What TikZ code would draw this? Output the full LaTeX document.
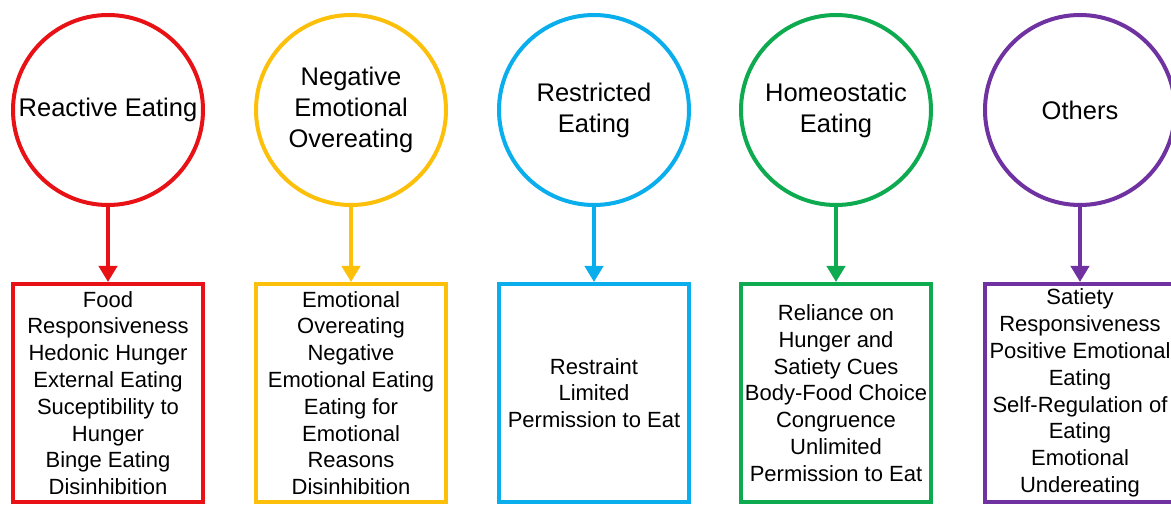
\documentclass[tikz,border=0pt]{standalone}
\usepackage{fontspec}
\setmainfont{Liberation Sans}
\usetikzlibrary{arrows.meta}
\definecolor{cred}{RGB}{232,18,22}
\definecolor{cyellow}{RGB}{252,192,10}
\definecolor{cblue}{RGB}{10,174,236}
\definecolor{cgreen}{RGB}{14,170,80}
\definecolor{cpurple}{RGB}{112,50,160}
\begin{document}
\begin{tikzpicture}[x=1pt,y=1pt,
  topic/.style={circle,draw=#1,line width=4pt,minimum size=190pt,inner sep=0pt,
    align=center,font=\fontsize{25.5}{31}\selectfont},
  facet/.style={rectangle,draw=#1,line width=4pt,minimum width=190pt,
    minimum height=218pt,inner sep=0pt,align=center,
    font=\fontsize{22}{26.8}\selectfont},
  link/.style={draw=#1,line width=4pt,-{Triangle[length=16pt,width=18pt]}}]
\useasboundingbox (0,0) rectangle (1171,-505);
\fill[white] (0,0) rectangle (1171,-505);
\clip (0,0) rectangle (1171,-505);

% category circles
\node[topic=cred]    (t1) at (108,-110)  {Reactive Eating};
\node[topic=cyellow] (t2) at (351,-110)  {Negative\\Emotional\\Overeating};
\node[topic=cblue]   (t3) at (594,-110)  {Restricted\\Eating};
\node[topic=cgreen]  (t4) at (836,-110)  {Homeostatic\\Eating};
\node[topic=cpurple] (t5) at (1080,-110) {Others};

% facet boxes
\node[facet=cred]    (f1) at (108,-393)  {Food\\Responsiveness\\Hedonic Hunger\\External Eating\\Suceptibility to\\Hunger\\Binge Eating\\Disinhibition};
\node[facet=cyellow] (f2) at (351,-393)  {Emotional\\Overeating\\Negative\\Emotional Eating\\Eating for\\Emotional\\Reasons\\Disinhibition};
\node[facet=cblue]   (f3) at (594,-393)  {Restraint\\Limited\\Permission to Eat};
\node[facet=cgreen]  (f4) at (836,-393)  {Reliance on\\Hunger and\\Satiety Cues\\Body-Food Choice\\Congruence\\Unlimited\\Permission to Eat};
\node[facet=cpurple] (f5) at (1080,-393) {Satiety\\Responsiveness\\Positive Emotional\\Eating\\Self-Regulation of\\Eating\\Emotional\\Undereating};

% connectors
\draw[link=cred]    (t1.south) -- (f1.north);
\draw[link=cyellow] (t2.south) -- (f2.north);
\draw[link=cblue]   (t3.south) -- (f3.north);
\draw[link=cgreen]  (t4.south) -- (f4.north);
\draw[link=cpurple] (t5.south) -- (f5.north);
\end{tikzpicture}
\end{document}
